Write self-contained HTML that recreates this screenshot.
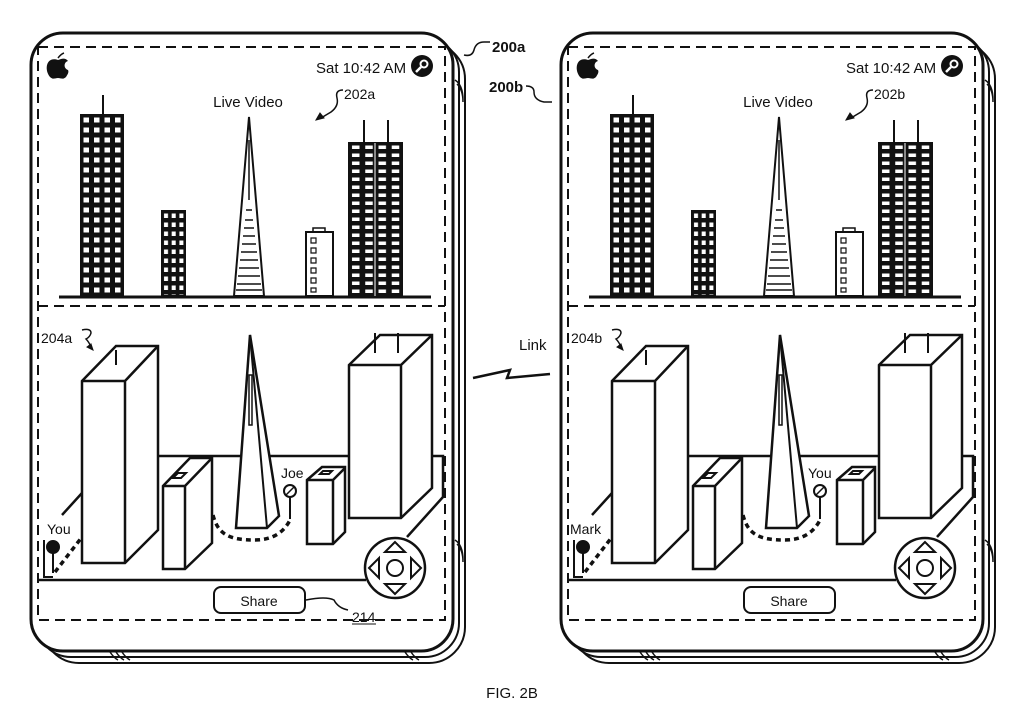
<!DOCTYPE html>
<html><head><meta charset="utf-8"><style>
html,body{margin:0;padding:0;background:#fff}
svg{display:block}
text{font-family:"Liberation Sans",sans-serif;fill:#111}
</style></head><body>
<svg width="1024" height="711" viewBox="0 0 1024 711" xmlns="http://www.w3.org/2000/svg">
<defs>
<pattern id="w1" x="81" y="115" width="10.5" height="10" patternUnits="userSpaceOnUse">
<rect width="10.5" height="10" fill="#111"/><rect x="2.5" y="2.5" width="5.5" height="5" fill="#fff"/></pattern>
<pattern id="w2" x="162" y="211" width="7.7" height="9" patternUnits="userSpaceOnUse">
<rect width="7.7" height="9" fill="#111"/><rect x="2" y="2.5" width="4" height="4.5" fill="#fff"/></pattern>
<pattern id="w5" x="349" y="143" width="13.25" height="8" patternUnits="userSpaceOnUse">
<rect width="13.25" height="8" fill="#111"/><rect x="3" y="2.5" width="7.5" height="3.5" fill="#fff"/></pattern>
<g id="dev" fill="none" stroke="#111" stroke-width="2.5">
<rect x="43" y="43" width="422" height="620" rx="36" stroke-width="2"/>
<rect x="37" y="38" width="422" height="619" rx="34" fill="#fff" stroke-width="2"/>
<rect x="31" y="33" width="422" height="618" rx="32" fill="#fff" stroke-width="3"/>
<path d="M455 80 q8 5 8 20 M457 84 q6 6 6 18 M455 540 q8 5 8 20 M457 544 q6 6 6 18 M110 652 q4 6 8 8 M116 652 q4 6 8 8 M122 652 q4 6 8 8 M405 652 q4 6 8 8 M411 652 q4 6 8 8" stroke-width="1.5"/>
<rect x="38" y="47" width="407" height="573" stroke-width="2" stroke-dasharray="10,6"/>
<line x1="38" y1="306" x2="445" y2="306" stroke-width="2" stroke-dasharray="10,6"/>
<path d="M58 58 q3 -4 6 -5" stroke-width="1.5"/>
<path d="M58 60 c-12 -4 -14 10 -8 17 c3 3 5 1 8 1 c3 0 5 2 8 -1 c2 -3 3 -5 2 -7 c-5 -2 -4 -8 0 -9 c-3 -4 -7 -2 -10 -1z" fill="#111" stroke="none"/>
<circle cx="422" cy="66" r="11" fill="#111" stroke="none"/>
<circle cx="424" cy="64" r="3.5" stroke="#fff" stroke-width="2"/>
<line x1="421" y1="67" x2="416" y2="72" stroke="#fff" stroke-width="2.5"/>
<line x1="59" y1="297" x2="431" y2="297" stroke-width="3"/>
<rect x="81" y="115" width="42" height="181" fill="url(#w1)" stroke-width="2"/>
<line x1="103" y1="95" x2="103" y2="115" stroke-width="2"/>
<rect x="162" y="211" width="23" height="85" fill="url(#w2)" stroke-width="2"/>
<path d="M234 296 L249 117 L264 296 Z" fill="#fff" stroke-width="2"/>
<path d="M240 260 H258 M239 268 H259 M238 276 H260 M237 284 H261 M236 290 H262 M241 252 H257 M242 244 H256 M243 236 H255 M244 228 H254 M245 220 H253 M246 210 H252" stroke-width="1.5"/>
<line x1="249" y1="140" x2="249" y2="200" stroke-width="1.5"/>
<rect x="306" y="232" width="27" height="64" fill="#fff" stroke-width="2"/>
<rect x="313" y="228" width="12" height="4" stroke-width="1.5"/>
<path d="M311 238 h5 v5 h-5z M311 248 h5 v5 h-5z M311 258 h5 v5 h-5z M311 268 h5 v5 h-5z M311 278 h5 v5 h-5z M311 288 h5 v4 h-5z" stroke-width="1.2"/>
<rect x="349" y="143" width="53" height="153" fill="url(#w5)" stroke-width="2"/>
<line x1="375" y1="143" x2="375" y2="296" stroke="#fff" stroke-width="1"/>
<line x1="364" y1="120" x2="364" y2="143" stroke-width="2"/>
<line x1="388" y1="120" x2="388" y2="143" stroke-width="2"/>
<path d="M158 456 H443 V497 L407 537 M39 580 H366 M62 515 L82 493" stroke-width="2.5"/>
<path d="M82 381 L116 346 H158 V530 L125 563 H82 Z" fill="#fff" stroke-width="2.5"/>
<path d="M82 381 H125 L158 346 M125 381 V563" stroke-width="2.5"/>
<line x1="116" y1="350" x2="116" y2="365" stroke-width="2"/>
<path d="M163 486 L190 458 H212 V543 L185 569 H163 Z" fill="#fff" stroke-width="2.5"/>
<path d="M163 486 H185 L212 458 M185 486 V569" stroke-width="2.5"/>
<path d="M173 478 l5 -5 h8 l-5 5z" stroke-width="2"/>
<path d="M250 335 L236 528 H267 L279 516 Z" fill="#fff" stroke-width="2.5"/>
<path d="M250 335 L267 528" stroke-width="2"/>
<rect x="249" y="375" width="3" height="50" stroke-width="1.5"/>
<path d="M307 480 L322 467 H345 V532 L333 544 H307 Z" fill="#fff" stroke-width="2.5"/>
<path d="M307 480 H333 L345 468 M333 480 V544" stroke-width="2.5"/>
<path d="M320 474 l3 -3 h9 l-3 3z" stroke-width="2"/>
<path d="M349 365 L380 335 H432 V488 L401 518 H349 Z" fill="#fff" stroke-width="2.5"/>
<path d="M349 365 H401 L432 335 M401 365 V518" stroke-width="2.5"/>
<line x1="375" y1="333" x2="375" y2="353" stroke-width="2"/>
<line x1="398" y1="333" x2="398" y2="353" stroke-width="2"/>
<circle cx="290" cy="491" r="6" fill="#fff" stroke-width="2"/>
<line x1="286" y1="495" x2="294" y2="487" stroke-width="1.5"/>
<line x1="290" y1="497" x2="290" y2="519" stroke-width="2"/>
<circle cx="53" cy="547" r="6" fill="#111" stroke-width="2"/>
<line x1="53" y1="553" x2="53" y2="573" stroke-width="2"/>
<path d="M44 540 V577 H53" stroke-width="2"/>
<path d="M55 572 L82 537" stroke-width="3.5" stroke-dasharray="5,4"/>
<path d="M213 515 C218 535 230 540 255 540 C275 540 285 530 290 520" stroke-width="3.5" stroke-dasharray="5,4"/>
<circle cx="395" cy="568" r="30" fill="#fff" stroke-width="2.5"/>
<circle cx="395" cy="568" r="8" stroke-width="2"/>
<path d="M395 542 l-10 10 h20z M395 594 l-10 -10 h20z M369 568 l10 -10 v20z M421 568 l-10 -10 v20z" stroke-width="2"/>
<rect x="214" y="587" width="91" height="26" rx="7" fill="#fff" stroke-width="2"/>
<path d="M343 90 q-8 0 -6 8 q2 8 -6 14 l-10 6" stroke-width="1.5"/>
<path d="M316 120 l8 -2 l-4 -5z" fill="#111" stroke-width="1"/>
<path d="M82 330 q9 -2 9 3 q-1 4 -5 6 q3 3 5 8" stroke-width="1.5"/>
<path d="M93 350 l-6 -3 l4 -3z" fill="#111" stroke-width="1"/>
</g>
</defs>
<use href="#dev"/>
<use href="#dev" x="530"/>
<path d="M306 600 q20 -4 28 0 q4 8 14 10" fill="none" stroke="#111" stroke-width="1.5"/>
<text x="352" y="622" font-size="14">214</text>
<line x1="352" y1="624" x2="376" y2="624" stroke="#111" stroke-width="1"/>
<text x="316" y="73" font-size="15">Sat  10:42 AM</text>
<text x="248" y="107" font-size="15" text-anchor="middle">Live Video</text>
<text x="344" y="99" font-size="14">202a</text>
<text x="41" y="343" font-size="14">204a</text>
<text x="281" y="478" font-size="14">Joe</text>
<text x="47" y="534" font-size="14">You</text>
<text x="259" y="606" font-size="14" text-anchor="middle">Share</text>
<text x="846" y="73" font-size="15">Sat  10:42 AM</text>
<text x="778" y="107" font-size="15" text-anchor="middle">Live Video</text>
<text x="874" y="99" font-size="14">202b</text>
<text x="571" y="343" font-size="14">204b</text>
<text x="808" y="478" font-size="14">You</text>
<text x="570" y="534" font-size="14">Mark</text>
<text x="789" y="606" font-size="14" text-anchor="middle">Share</text>
<path d="M464 55 q8 2 10 -5 q2 -8 10 -8 h6" fill="none" stroke="#111" stroke-width="1.5"/>
<text x="492" y="52" font-size="15" font-weight="bold">200a</text>
<text x="489" y="92" font-size="15" font-weight="bold">200b</text>
<path d="M526 86 q8 0 8 6 q0 8 10 10 h8" fill="none" stroke="#111" stroke-width="1.5"/>
<text x="519" y="350" font-size="15">Link</text>
<path d="M473 378 L510 370 L507 378 L550 374" fill="none" stroke="#111" stroke-width="2.5"/>
<text x="512" y="698" font-size="15" text-anchor="middle">FIG. 2B</text>
</svg>
</body></html>
